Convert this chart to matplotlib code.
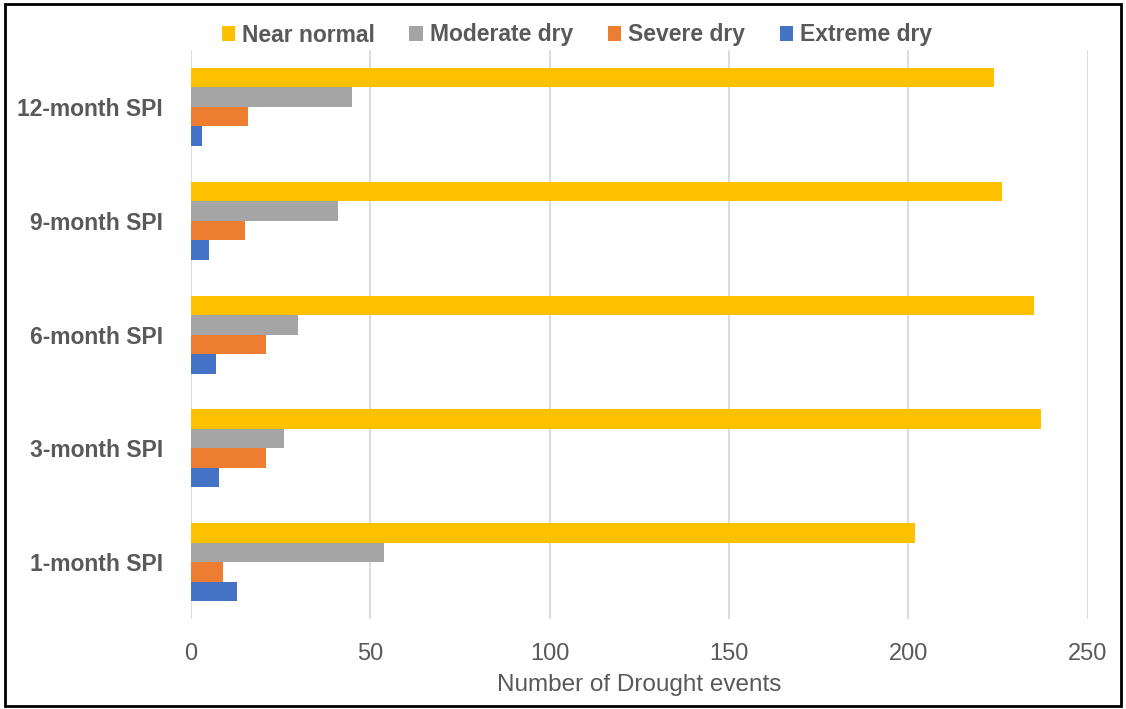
import matplotlib.pyplot as plt
from matplotlib.patches import Rectangle

plt.rcParams["font.family"] = ["Liberation Sans", "DejaVu Sans"]

scales = ["1-month SPI", "3-month SPI", "6-month SPI", "9-month SPI", "12-month SPI"]
near_normal = [202, 237, 235, 226, 224]
moderate_dry = [54, 26, 30, 41, 45]
severe_dry = [9, 21, 21, 15, 16]
extreme_dry = [13, 8, 7, 5, 3]

series = [
    ("Near normal", near_normal, "#FFC000"),
    ("Moderate dry", moderate_dry, "#A5A5A5"),
    ("Severe dry", severe_dry, "#ED7D31"),
    ("Extreme dry", extreme_dry, "#4472C4"),
]

text_color = "#595959"

fig = plt.figure(figsize=(11.26, 7.09), dpi=100)
ax = fig.add_axes([0.1694, 0.1269, 0.7966, 0.8025])

h = 0.1714
offsets = [1.5 * h, 0.5 * h, -0.5 * h, -1.5 * h]
ypos = list(range(len(scales)))

for (name, vals, color), off in zip(series, offsets):
    ax.barh([y + off for y in ypos], vals, height=h, color=color,
            label=name, zorder=3)

ax.set_xlim(0, 250)
ax.set_ylim(-0.5, len(scales) - 0.5)
ax.set_xticks(range(0, 251, 50))
ax.set_yticks(ypos)
ax.set_yticklabels(scales, fontsize=16.5, fontweight="bold", color=text_color)
ax.tick_params(axis="x", labelsize=17, labelcolor=text_color, length=0, pad=17)
ax.tick_params(axis="y", length=0, pad=20)
ax.grid(axis="x", color="#D9D9D9", linewidth=1.3, zorder=0)
for s in ax.spines.values():
    s.set_visible(False)

ax.set_xlabel("Number of Drought events", fontsize=17.5, color=text_color, labelpad=7)

fig.legend(loc="center", bbox_to_anchor=(577 / 1126, 1 - 35 / 709), ncol=4,
           frameon=False, handlelength=0.6, handleheight=0.6, handletextpad=0.3,
           columnspacing=1.5, prop={"size": 16.5, "weight": "bold"},
           labelcolor=text_color)

fig.patches.append(Rectangle((0.004, 0.004), 0.992, 0.990, transform=fig.transFigure,
                             fill=False, edgecolor="black", linewidth=2))

fig.savefig("out.png", dpi=100)
